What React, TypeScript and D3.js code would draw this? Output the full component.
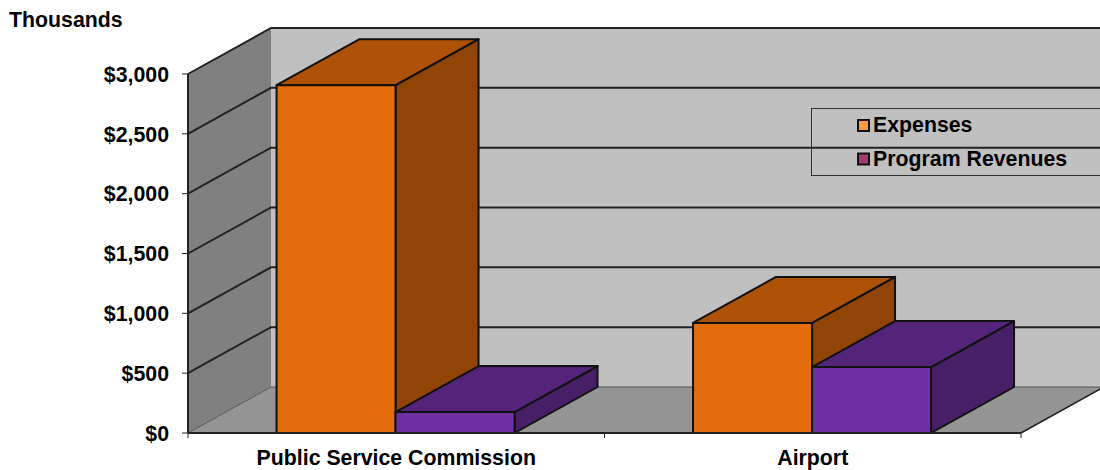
import * as d3 from "d3";

const categories = ["Public Service Commission", "Airport"];
const seriesNames = ["Expenses", "Program Revenues"];
const expenses = [2907, 920];
const programRevenues = [175, 551];
const yTicks = [0, 500, 1000, 1500, 2000, 2500, 3000];

const faces = [
  { front: "#e46c0a", top: "#ad5206", side: "#904405", swatch: "#fb9a3f" },
  { front: "#7030a0", top: "#54247a", side: "#461f66", swatch: "#a03a70" },
];

const width = 1100;
const height = 470;
const left = 188;
const right = 1021;
const floorY = 433;
const topY = 74;
// 3d offset of the back plane
const dx = 83;
const dy = -46;
const font = "'Liberation Sans', Arial, sans-serif";
const fontSize = 21.3;

export default function App() {
  const y = d3.scaleLinear().domain([0, 3000]).range([floorY, topY]);
  const x0 = d3.scaleBand().domain(categories).range([left, right]);
  // gap width 150%: each outer side gets 0.75 of a bar
  const x1 = d3
    .scaleBand()
    .domain(seriesNames)
    .range([0, x0.bandwidth()])
    .paddingInner(0)
    .paddingOuter(0.75);
  const values = [expenses, programRevenues];
  const poly = d3.line();
  const bw = x1.bandwidth();

  const bars = categories.flatMap((cat, c) =>
    seriesNames.map((name, s) => {
      // bars sit just left of the band centre in the source
      const xa = (x0(cat) ?? 0) + (x1(name) ?? 0) - 0.7;
      const xb = xa + bw;
      const yv = y(values[s][c]);
      return (
        <g key={cat + name} stroke="#111" strokeWidth={2} strokeLinejoin="round">
          <path
            fill={faces[s].side}
            d={poly([[xb, yv], [xb + dx, yv + dy], [xb + dx, floorY + dy], [xb, floorY]]) + "Z"}
          />
          <path
            fill={faces[s].top}
            d={poly([[xa, yv], [xb, yv], [xb + dx, yv + dy], [xa + dx, yv + dy]]) + "Z"}
          />
          <rect x={xa} y={yv} width={bw} height={floorY - yv} fill={faces[s].front} />
        </g>
      );
    })
  );

  return (
    <svg
      width={width}
      height={height}
      style={{ position: "absolute", left: 0, top: 0, background: "#fff" }}
      fontFamily={font}
      fontWeight="bold"
      fontSize={fontSize}
    >
      {/* back wall, side wall, floor */}
      <rect x={left + dx} y={y(3000) + dy} width={width - left - dx} height={floorY - y(3000)} fill="#c0c0c0" />
      <path
        fill="#808080"
        d={poly([[left, y(3000)], [left + dx, y(3000) + dy], [left + dx, floorY + dy], [left, floorY]]) + "Z"}
      />
      <path
        fill="#949494"
        d={poly([[left, floorY], [right, floorY], [right + dx, floorY + dy], [left + dx, floorY + dy]]) + "Z"}
      />

      {/* gridlines */}
      {yTicks.map((t) => (
        <path
          key={t}
          fill="none"
          stroke={t === 0 ? "#555" : "#222"}
          strokeWidth={t === 0 ? 1 : 2}
          d={poly([[left, y(t)], [left + dx, y(t) + dy], [width, y(t) + dy]]) ?? ""}
        />
      ))}

      {bars}

      {/* axes */}
      <line x1={left} x2={left} y1={y(3000)} y2={floorY} stroke="#222" strokeWidth={2} />
      <line x1={left} x2={right} y1={floorY} y2={floorY} stroke="#222" strokeWidth={2} />
      <line x1={right} x2={right + dx} y1={floorY} y2={floorY + dy} stroke="#222" strokeWidth={1.5} />
      {yTicks.map((t) => (
        <g key={t}>
          <line x1={left - 6} x2={left} y1={y(t)} y2={y(t)} stroke="#222" strokeWidth={1} />
          <text x={169} y={y(t)} dy="0.36em" textAnchor="end">
            {d3.format("$,")(t)}
          </text>
        </g>
      ))}
      {[left, (left + right) / 2, right].map((tx) => (
        <line key={tx} x1={tx} x2={tx} y1={floorY} y2={floorY + 5} stroke="#222" strokeWidth={1} />
      ))}
      {categories.map((cat) => (
        <text key={cat} x={(x0(cat) ?? 0) + x0.bandwidth() / 2} y={465} textAnchor="middle">
          {cat}
        </text>
      ))}
      <text x={9} y={27}>
        Thousands
      </text>

      {/* legend */}
      <rect x={811.5} y={108.5} width={300} height={67} fill="none" stroke="#333" strokeWidth={1} />
      {seriesNames.map((name, i) => (
        <g key={name}>
          <rect x={858} y={120 + i * 33.5} width={11} height={11} fill={faces[i].swatch} stroke="#111" strokeWidth={2} />
          <text x={873} y={132 + i * 34}>
            {name}
          </text>
        </g>
      ))}
    </svg>
  );
}
